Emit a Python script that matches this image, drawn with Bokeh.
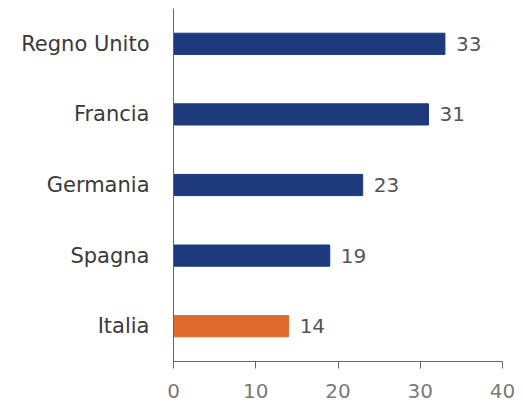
from bokeh.plotting import figure
from bokeh.models import ColumnDataSource, Range1d, FactorRange, FixedTicker
from bokeh.core.properties import value
from bokeh.embed import file_html
from bokeh.resources import INLINE

countries = ["Italia", "Spagna", "Germania", "Francia", "Regno Unito"]
values = [14, 19, 23, 31, 33]
colors = ["#e06a2b", "#1c3a7c", "#1c3a7c", "#1c3a7c", "#1c3a7c"]
x_ticks = [0, 10, 20, 30, 40]

FONT = "DejaVu Sans"

src = ColumnDataSource(dict(c=countries, v=values, col=colors,
                            lab=[str(v) for v in values]))

p = figure(width=523, height=403, y_range=FactorRange(factors=countries, range_padding=0),
           x_range=Range1d(0, 40), output_backend="svg", toolbar_location=None,
           min_border_left=173, min_border_right=21, min_border_top=8, min_border_bottom=42)
p.outline_line_color = None
p.grid.grid_line_color = None
p.background_fill_color = "white"

p.hbar(y="c", right="v", left=0, height=0.3, color="col", source=src)
p.text(x="v", y="c", text="lab", source=src, x_offset=11, text_baseline="middle",
       text_font=value(FONT), text_font_size="20px", text_color="#555555")

p.xaxis.ticker = FixedTicker(ticks=x_ticks)
p.xaxis.minor_tick_line_color = None
p.xaxis.major_tick_out = 7
p.xaxis.major_tick_in = 0
p.xaxis.axis_line_color = "#666666"
p.xaxis.major_tick_line_color = "#666666"
p.xaxis.major_label_text_font = FONT
p.xaxis.major_label_text_font_size = "20px"
p.xaxis.major_label_text_color = "#7a7a7a"
p.xaxis.major_label_standoff = 15

p.yaxis.axis_line_color = "#666666"
p.yaxis.major_tick_line_color = None
p.yaxis.minor_tick_line_color = None
p.yaxis.major_label_text_font = FONT
p.yaxis.major_label_text_font_size = "21px"
p.yaxis.major_label_text_color = "#3a3a3a"
p.yaxis.major_label_standoff = 18

open("out.html", "w").write(file_html(p, INLINE))
